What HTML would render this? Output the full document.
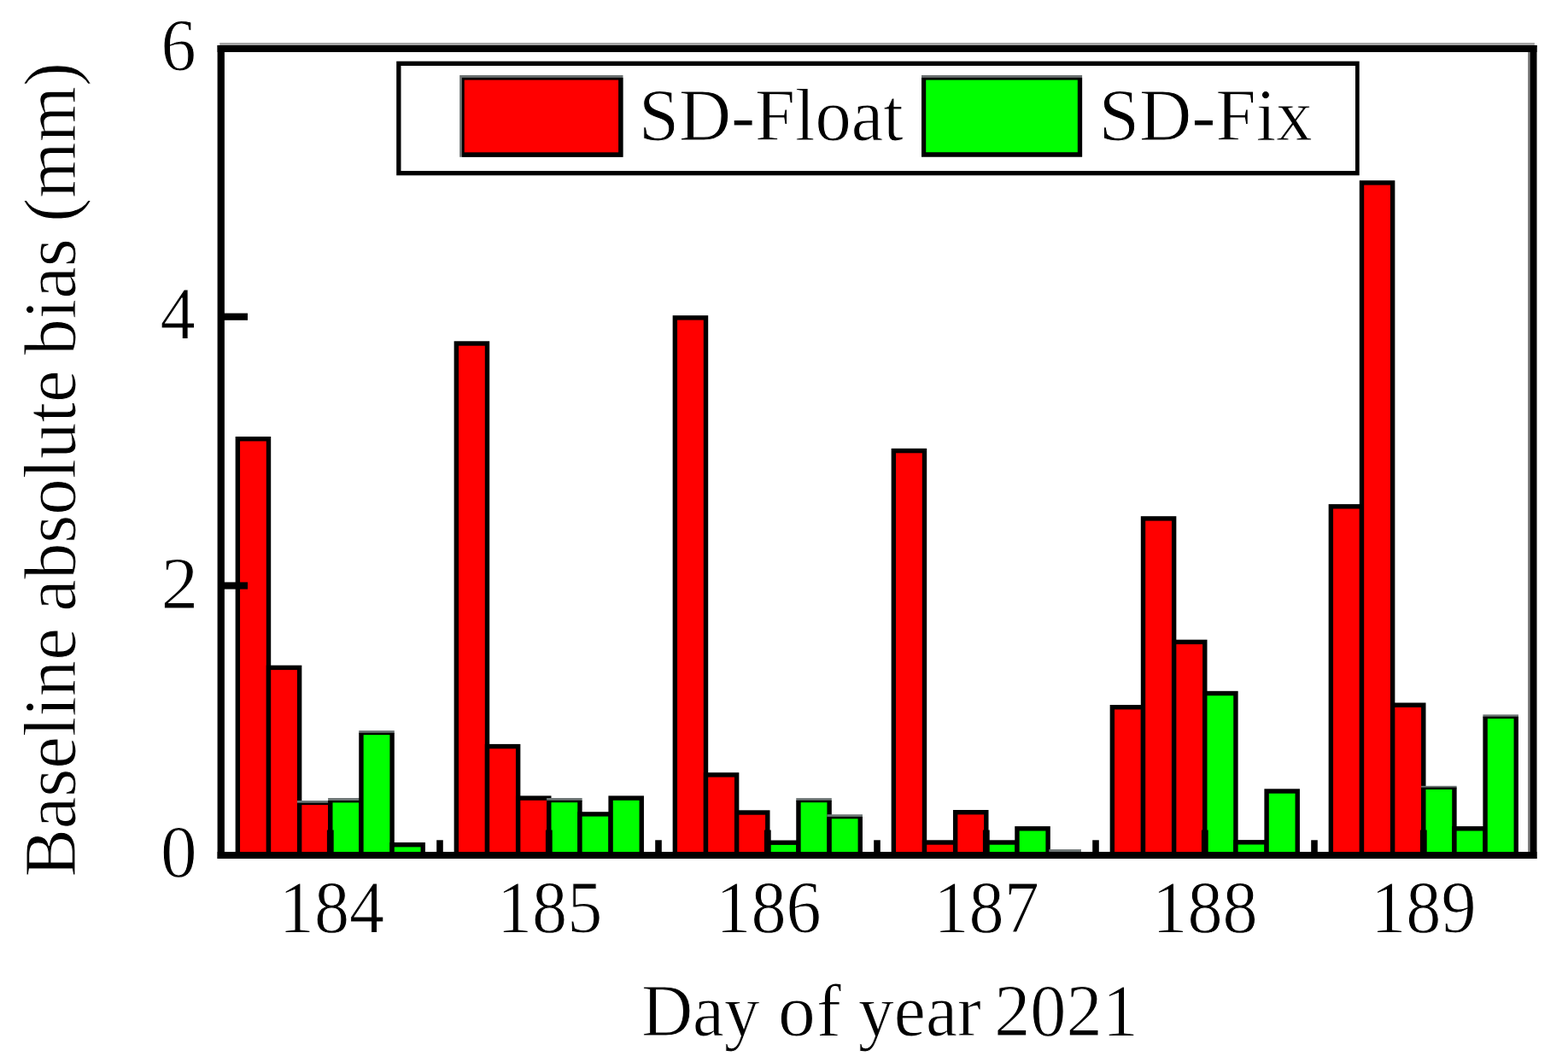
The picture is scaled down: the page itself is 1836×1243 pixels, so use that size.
<!DOCTYPE html>
<html><head><meta charset="utf-8"><title>Baseline absolute bias</title>
<style>
html,body{margin:0;padding:0;background:#fff;}
body{width:1836px;height:1243px;overflow:hidden;}
svg{display:block;}
</style></head>
<body>
<svg width="1836" height="1243" viewBox="0 0 1836 1243">
<rect x="0" y="0" width="1836" height="1243" fill="#fff"/>
<g shape-rendering="auto">
<rect x="275.65" y="511.00" width="41.55" height="487.00" fill="#000"/>
<rect x="281.05" y="516.40" width="30.75" height="480.60" fill="#ff0000"/>
<rect x="311.80" y="778.70" width="41.55" height="219.30" fill="#000"/>
<rect x="317.20" y="784.10" width="30.75" height="212.90" fill="#ff0000"/>
<rect x="347.95" y="937.00" width="41.55" height="3.70" fill="#6e7676"/>
<rect x="347.95" y="939.70" width="41.55" height="58.30" fill="#000"/>
<rect x="353.35" y="942.10" width="30.75" height="54.90" fill="#ff0000"/>
<rect x="384.10" y="934.00" width="41.55" height="4.00" fill="#6e7676"/>
<rect x="384.10" y="937.00" width="41.55" height="61.00" fill="#000"/>
<rect x="389.50" y="939.40" width="30.75" height="57.60" fill="#00ff00"/>
<rect x="420.25" y="855.00" width="41.55" height="3.70" fill="#6e7676"/>
<rect x="420.25" y="857.70" width="41.55" height="140.30" fill="#000"/>
<rect x="425.65" y="860.10" width="30.75" height="136.90" fill="#00ff00"/>
<rect x="456.40" y="986.00" width="41.55" height="12.00" fill="#000"/>
<rect x="461.80" y="991.40" width="30.75" height="5.60" fill="#00ff00"/>
<rect x="531.65" y="399.30" width="41.55" height="598.70" fill="#000"/>
<rect x="537.05" y="404.70" width="30.75" height="592.30" fill="#ff0000"/>
<rect x="567.80" y="870.90" width="41.55" height="127.10" fill="#000"/>
<rect x="573.20" y="876.30" width="30.75" height="120.70" fill="#ff0000"/>
<rect x="603.95" y="931.40" width="41.55" height="66.60" fill="#000"/>
<rect x="609.35" y="936.80" width="30.75" height="60.20" fill="#ff0000"/>
<rect x="640.10" y="934.00" width="41.55" height="3.80" fill="#6e7676"/>
<rect x="640.10" y="936.80" width="41.55" height="61.20" fill="#000"/>
<rect x="645.50" y="939.20" width="30.75" height="57.80" fill="#00ff00"/>
<rect x="676.25" y="950.20" width="41.55" height="47.80" fill="#000"/>
<rect x="681.65" y="955.60" width="30.75" height="41.40" fill="#00ff00"/>
<rect x="712.40" y="931.40" width="41.55" height="66.60" fill="#000"/>
<rect x="717.80" y="936.80" width="30.75" height="60.20" fill="#00ff00"/>
<rect x="787.65" y="369.20" width="41.55" height="628.80" fill="#000"/>
<rect x="793.05" y="374.60" width="30.75" height="622.40" fill="#ff0000"/>
<rect x="823.80" y="904.20" width="41.55" height="93.80" fill="#000"/>
<rect x="829.20" y="909.60" width="30.75" height="87.40" fill="#ff0000"/>
<rect x="859.95" y="948.30" width="41.55" height="49.70" fill="#000"/>
<rect x="865.35" y="953.70" width="30.75" height="43.30" fill="#ff0000"/>
<rect x="896.10" y="983.50" width="41.55" height="14.50" fill="#000"/>
<rect x="901.50" y="988.90" width="30.75" height="8.10" fill="#00ff00"/>
<rect x="932.25" y="934.10" width="41.55" height="3.70" fill="#6e7676"/>
<rect x="932.25" y="936.80" width="41.55" height="61.20" fill="#000"/>
<rect x="937.65" y="939.20" width="30.75" height="57.80" fill="#00ff00"/>
<rect x="968.40" y="953.20" width="41.55" height="3.70" fill="#6e7676"/>
<rect x="968.40" y="955.90" width="41.55" height="42.10" fill="#000"/>
<rect x="973.80" y="958.30" width="30.75" height="38.70" fill="#00ff00"/>
<rect x="1043.65" y="524.90" width="41.55" height="473.10" fill="#000"/>
<rect x="1049.05" y="530.30" width="30.75" height="466.70" fill="#ff0000"/>
<rect x="1079.80" y="983.30" width="41.55" height="14.70" fill="#000"/>
<rect x="1085.20" y="988.70" width="30.75" height="8.30" fill="#ff0000"/>
<rect x="1115.95" y="948.00" width="41.55" height="50.00" fill="#000"/>
<rect x="1121.35" y="953.40" width="30.75" height="43.60" fill="#ff0000"/>
<rect x="1152.10" y="983.30" width="41.55" height="14.70" fill="#000"/>
<rect x="1157.50" y="988.70" width="30.75" height="8.30" fill="#00ff00"/>
<rect x="1188.25" y="967.10" width="41.55" height="30.90" fill="#000"/>
<rect x="1193.65" y="972.50" width="30.75" height="24.50" fill="#00ff00"/>
<rect x="1228.30" y="994.10" width="37.65" height="2.90" fill="#6e7676"/>
<rect x="1299.65" y="825.00" width="41.55" height="173.00" fill="#000"/>
<rect x="1305.05" y="830.40" width="30.75" height="166.60" fill="#ff0000"/>
<rect x="1335.80" y="604.20" width="41.55" height="393.80" fill="#000"/>
<rect x="1341.20" y="609.60" width="30.75" height="387.40" fill="#ff0000"/>
<rect x="1371.95" y="748.70" width="41.55" height="249.30" fill="#000"/>
<rect x="1377.35" y="754.10" width="30.75" height="242.90" fill="#ff0000"/>
<rect x="1408.10" y="808.80" width="41.55" height="189.20" fill="#000"/>
<rect x="1413.50" y="814.20" width="30.75" height="182.80" fill="#00ff00"/>
<rect x="1444.25" y="983.10" width="41.55" height="14.90" fill="#000"/>
<rect x="1449.65" y="988.50" width="30.75" height="8.50" fill="#00ff00"/>
<rect x="1480.40" y="923.30" width="41.55" height="74.70" fill="#000"/>
<rect x="1485.80" y="928.70" width="30.75" height="68.30" fill="#00ff00"/>
<rect x="1555.65" y="590.10" width="41.55" height="407.90" fill="#000"/>
<rect x="1561.05" y="595.50" width="30.75" height="401.50" fill="#ff0000"/>
<rect x="1591.80" y="211.20" width="41.55" height="786.80" fill="#000"/>
<rect x="1597.20" y="216.60" width="30.75" height="780.40" fill="#ff0000"/>
<rect x="1627.95" y="822.50" width="41.55" height="175.50" fill="#000"/>
<rect x="1633.35" y="827.90" width="30.75" height="169.10" fill="#ff0000"/>
<rect x="1664.10" y="919.80" width="41.55" height="2.80" fill="#6e7676"/>
<rect x="1664.10" y="921.60" width="41.55" height="76.40" fill="#000"/>
<rect x="1669.50" y="924.00" width="30.75" height="73.00" fill="#00ff00"/>
<rect x="1700.25" y="967.10" width="41.55" height="30.90" fill="#000"/>
<rect x="1705.65" y="972.50" width="30.75" height="24.50" fill="#00ff00"/>
<rect x="1736.40" y="836.30" width="41.55" height="3.40" fill="#6e7676"/>
<rect x="1736.40" y="838.70" width="41.55" height="159.30" fill="#000"/>
<rect x="1741.80" y="841.10" width="30.75" height="155.90" fill="#00ff00"/>
<rect x="258.00" y="366.60" width="32.00" height="8.20" fill="#000"/>
<rect x="258.00" y="681.40" width="32.00" height="8.20" fill="#000"/>
<rect x="382.90" y="971.50" width="7.80" height="28.50" fill="#000"/>
<rect x="638.90" y="971.50" width="7.80" height="28.50" fill="#000"/>
<rect x="894.90" y="971.50" width="7.80" height="28.50" fill="#000"/>
<rect x="1150.90" y="971.50" width="7.80" height="28.50" fill="#000"/>
<rect x="1406.90" y="971.50" width="7.80" height="28.50" fill="#000"/>
<rect x="1662.90" y="971.50" width="7.80" height="28.50" fill="#000"/>
<rect x="511.20" y="983.30" width="7.60" height="16.70" fill="#000"/>
<rect x="767.20" y="983.30" width="7.60" height="16.70" fill="#000"/>
<rect x="1023.20" y="983.30" width="7.60" height="16.70" fill="#000"/>
<rect x="1279.20" y="983.30" width="7.60" height="16.70" fill="#000"/>
<rect x="1535.20" y="983.30" width="7.60" height="16.70" fill="#000"/>
<rect x="257.20" y="50.00" width="1539.70" height="3.00" fill="#a4a4a4"/>
<rect x="1796.90" y="53.00" width="2.60" height="2.50" fill="#909090"/>
<rect x="1789.00" y="61.00" width="2.40" height="936.00" fill="#808080"/>
<rect x="254.60" y="53.00" width="1544.90" height="8.00" fill="#000"/>
<rect x="254.60" y="997.00" width="1544.90" height="8.00" fill="#000"/>
<rect x="254.60" y="53.00" width="8.30" height="952.00" fill="#000"/>
<rect x="1791.40" y="53.00" width="8.10" height="952.00" fill="#000"/>
<rect x="464.20" y="71.70" width="1127.50" height="133.60" fill="#000"/>
<rect x="469.50" y="77.00" width="1117.50" height="123.00" fill="#fff"/>
<rect x="538.20" y="88.00" width="191.30" height="95.80" fill="#6a7070"/>
<rect x="540.90" y="90.90" width="188.60" height="92.90" fill="#000"/>
<rect x="543.75" y="93.60" width="180.35" height="84.70" fill="#ff0000"/>
<rect x="1079.00" y="88.00" width="188.10" height="95.60" fill="#6a7070"/>
<rect x="1079.00" y="90.90" width="188.10" height="92.70" fill="#000"/>
<rect x="1084.20" y="93.60" width="177.60" height="84.60" fill="#00ff00"/>
</g>
<g font-family="'Liberation Serif', 'Times New Roman', serif" fill="#000" stroke="#fff" stroke-width="1.0">
<text transform="translate(188.40,82) scale(0.941,1)" font-size="87.5">6</text>
<text transform="translate(187.40,396) scale(0.943,1)" font-size="87.5">4</text>
<text transform="translate(188.45,712) scale(1.000,1)" font-size="87.5">2</text>
<text transform="translate(188.00,1026) scale(0.975,1)" font-size="87.5">0</text>
<text transform="translate(326.80,1091.3) scale(0.940,1)" font-size="87.5">184</text>
<text transform="translate(581.90,1091.3) scale(0.940,1)" font-size="87.5">185</text>
<text transform="translate(838.28,1091.3) scale(0.940,1)" font-size="87.5">186</text>
<text transform="translate(1093.43,1091.3) scale(0.940,1)" font-size="87.5">187</text>
<text transform="translate(1349.30,1091.3) scale(0.940,1)" font-size="87.5">188</text>
<text transform="translate(1605.25,1091.3) scale(0.940,1)" font-size="87.5">189</text>
<text transform="translate(747.90,164) scale(0.966,1)" font-size="87.5">SD-Float</text>
<text transform="translate(1286.70,164) scale(0.970,1)" font-size="87.5">SD-Fix</text>
<text transform="translate(751.15,1211.6) scale(0.949,1)" font-size="87.5">Day</text>
<text x="910.9 955.8" y="1211.6" font-size="87.5">of</text>
<text transform="translate(1005.10,1211.6) scale(0.954,1)" font-size="87.5">year</text>
<text transform="translate(1164.14,1211.6) scale(0.964,1)" font-size="87.5">2021</text>
<text transform="translate(87.6,1023.7) rotate(-90) translate(-2.9,0) scale(0.967,1)" font-size="87.5">Baseline</text>
<text transform="translate(87.6,1023.7) rotate(-90) translate(308.03,0) scale(0.968,1)" font-size="87.5">absolute</text>
<text transform="translate(87.6,1023.7) rotate(-90) translate(607.83,0) scale(0.97,1)" font-size="87.5">bias</text>
<text transform="translate(87.6,1023.7) rotate(-90) translate(763.96,0) scale(0.961,1)" font-size="87.5">(mm)</text>
</g>
</svg>
</body></html>
